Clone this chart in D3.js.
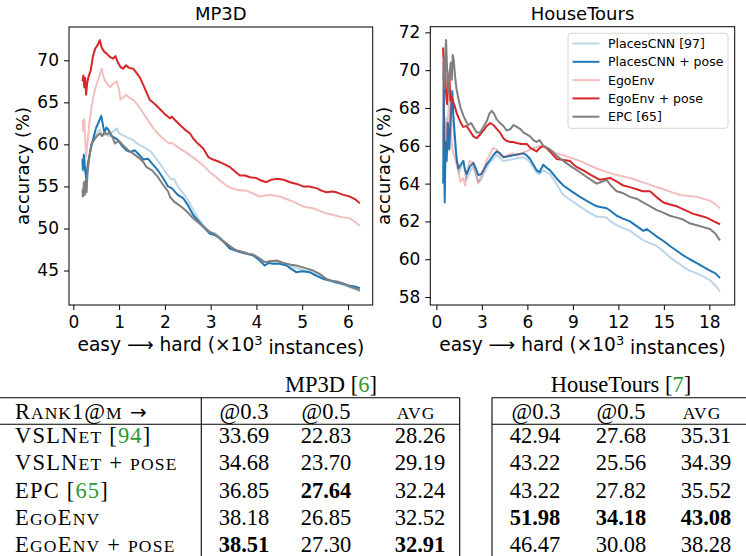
<!DOCTYPE html>
<html>
<head>
<meta charset="utf-8">
<script src="https://cdn.jsdelivr.net/npm/d3@7"></script>
<style>
    body { margin: 0; background: #fff; }
    svg { display: block; }
</style>
</head>
<body>
<div id="chart"></div>
<script>
"use strict";
(function () {
    // ---- MP3D curve: accuracy vs difficulty (x in 10^3 instances) ----
    const mp3dPlaces = [[0.20,58.0],[0.22,56.8],[0.24,58.5],[0.27,56.5],[0.30,57.2],[0.34,58.5],[0.40,59.8],[0.46,60.8],[0.52,61.3],[0.58,61.8],[0.64,61.0],[0.70,61.2],[0.78,61.0],[0.86,61.5],[0.95,61.9],[1.0,61.3],[1.08,61.1],[1.18,60.8],[1.31,60.5],[1.42,60.0],[1.6,59.5],[1.70,59.1],[1.8,58.4],[1.92,57.5],[2.03,56.6],[2.14,55.8],[2.2,55.9],[2.28,55.0],[2.4,54.2],[2.5,53.4],[2.62,52.2],[2.73,51.2],[2.84,50.4],[2.98,49.6],[3.1,49.4],[3.2,49.0],[3.32,48.3],[3.42,47.7],[3.53,47.4],[3.64,47.2],[3.78,47.1],[3.93,46.8],[4.05,46.4],[4.18,46.0],[4.3,46.1],[4.44,46.0],[4.6,45.8],[4.76,45.5],[4.87,45.3],[5.0,45.1],[5.16,44.9],[5.3,44.6],[5.46,44.2],[5.6,43.8],[5.75,43.5],[5.9,43.3],[6.04,43.0],[6.15,42.8],[6.26,42.6]]
    const mp3dPlacesPose = [[0.20,58.3],[0.21,57.0],[0.23,58.8],[0.25,57.5],[0.28,56.0],[0.30,56.8],[0.33,58.0],[0.39,59.7],[0.45,61.0],[0.50,62.0],[0.55,62.6],[0.61,63.4],[0.65,62.2],[0.68,61.4],[0.72,62.0],[0.76,61.8],[0.83,61.0],[0.9,60.8],[0.98,60.5],[1.07,59.8],[1.16,59.3],[1.24,59.1],[1.34,59.3],[1.45,58.7],[1.53,58.2],[1.63,58.3],[1.74,57.6],[1.85,56.9],[1.96,56.0],[2.07,55.0],[2.15,54.8],[2.28,54.0],[2.4,53.6],[2.5,52.8],[2.62,51.6],[2.73,50.9],[2.84,50.2],[2.98,49.4],[3.1,49.2],[3.2,48.8],[3.32,48.2],[3.42,47.6],[3.53,47.4],[3.64,47.2],[3.78,47.0],[3.93,46.8],[4.05,46.3],[4.18,45.6],[4.27,45.9],[4.36,45.8],[4.5,45.8],[4.66,45.6],[4.76,45.2],[4.87,44.8],[5.0,44.9],[5.16,44.8],[5.3,44.4],[5.46,44.0],[5.6,43.8],[5.75,43.6],[5.9,43.4],[6.04,43.2],[6.15,43.1],[6.26,42.9]]
    const mp3dEgoEnv = [[0.20,62.9],[0.22,61.6],[0.24,63.0],[0.26,60.5],[0.28,58.5],[0.31,60.2],[0.35,62.5],[0.40,64.5],[0.45,66.0],[0.50,67.0],[0.55,67.8],[0.60,68.7],[0.62,69.0],[0.66,68.0],[0.70,67.5],[0.73,67.3],[0.80,66.8],[0.87,67.2],[0.95,67.5],[1.0,66.5],[1.03,65.3],[1.09,65.6],[1.16,65.9],[1.24,65.5],[1.31,65.3],[1.42,64.6],[1.53,63.7],[1.64,62.8],[1.75,61.9],[1.9,61.0],[2.04,60.3],[2.11,60.1],[2.15,60.2],[2.25,59.8],[2.33,59.5],[2.45,59.1],[2.55,58.7],[2.7,58.1],[2.84,57.5],[2.98,56.7],[3.1,56.2],[3.2,55.7],[3.35,55.1],[3.45,54.8],[3.56,54.6],[3.78,54.5],[3.95,54.1],[4.07,53.8],[4.18,53.9],[4.29,54.0],[4.4,53.9],[4.51,53.8],[4.65,53.5],[4.8,53.2],[4.92,52.9],[5.02,52.6],[5.24,52.4],[5.38,52.1],[5.53,51.8],[5.68,51.6],[5.82,51.4],[6.04,51.2],[6.15,50.8],[6.26,50.3]]
    const mp3dEgoEnvPose = [[0.20,67.5],[0.22,68.2],[0.24,66.8],[0.26,67.9],[0.28,65.9],[0.30,67.2],[0.33,68.0],[0.38,68.8],[0.43,70.5],[0.48,71.4],[0.53,71.8],[0.58,72.4],[0.62,71.5],[0.68,71.0],[0.73,70.8],[0.80,70.4],[0.87,70.2],[0.92,70.5],[0.97,69.8],[1.03,69.2],[1.09,69.0],[1.15,69.4],[1.22,69.1],[1.31,69.0],[1.38,68.5],[1.46,67.9],[1.55,66.8],[1.67,65.3],[1.78,64.8],[1.89,64.2],[2.0,63.6],[2.11,63.1],[2.15,63.3],[2.22,62.9],[2.33,62.3],[2.45,61.7],[2.55,61.3],[2.62,60.7],[2.72,60.1],[2.84,59.5],[2.95,58.5],[3.05,58.2],[3.2,57.9],[3.32,57.6],[3.42,57.3],[3.55,56.7],[3.64,56.3],[3.75,56.3],[3.86,56.1],[4.0,56.0],[4.1,55.7],[4.22,55.5],[4.33,55.8],[4.44,55.9],[4.6,55.8],[4.73,55.5],[4.88,55.3],[5.02,55.0],[5.15,55.0],[5.31,54.8],[5.42,54.5],[5.53,54.3],[5.65,54.4],[5.75,54.3],[5.9,54.0],[6.04,53.8],[6.15,53.5],[6.26,53.0]]
    const mp3dEPC = [[0.20,54.6],[0.21,53.8],[0.23,55.5],[0.25,54.0],[0.27,55.8],[0.29,54.3],[0.31,56.5],[0.34,58.0],[0.39,60.0],[0.45,60.5],[0.52,61.0],[0.58,61.3],[0.63,61.0],[0.68,61.4],[0.74,61.2],[0.8,61.5],[0.86,60.8],[0.91,60.1],[0.98,60.4],[1.02,60.3],[1.1,59.8],[1.2,59.3],[1.31,58.9],[1.43,58.4],[1.53,57.9],[1.6,57.3],[1.72,56.9],[1.85,56.1],[1.96,55.2],[2.07,54.4],[2.11,53.8],[2.2,53.2],[2.28,52.9],[2.4,52.4],[2.5,51.9],[2.62,51.2],[2.73,50.7],[2.84,50.2],[2.98,49.6],[3.1,49.3],[3.2,48.8],[3.35,48.2],[3.45,47.8],[3.56,47.4],[3.7,47.2],[3.82,47.0],[3.93,46.9],[4.05,46.5],[4.18,46.0],[4.3,46.1],[4.44,46.2],[4.6,45.9],[4.75,45.7],[4.87,45.6],[5.0,45.4],[5.12,45.2],[5.24,45.0],[5.38,44.6],[5.53,44.0],[5.65,43.8],[5.76,43.7],[5.89,43.5],[6.04,43.1],[6.15,42.9],[6.26,42.6]]

    // ---- HouseTours curve ----
    const htPlaces = [[0.45,66.0],[0.49,69.7],[0.53,65.0],[0.58,64.2],[0.65,67.5],[0.72,66.4],[0.8,66.0],[0.9,67.0],[0.97,68.5],[1.05,67.6],[1.12,67.0],[1.22,66.0],[1.32,65.5],[1.5,64.6],[1.65,64.9],[1.78,65.1],[1.9,64.5],[2.0,64.2],[2.2,64.6],[2.4,64.9],[2.6,64.5],[2.75,64.1],[2.95,64.2],[3.1,64.5],[3.3,64.8],[3.5,65.1],[3.75,65.3],[4.0,65.5],[4.2,65.35],[4.4,65.2],[4.75,65.25],[5.1,65.3],[5.4,65.35],[5.7,65.4],[5.95,65.3],[6.2,65.1],[6.4,64.85],[6.6,64.6],[6.8,64.5],[7.05,64.7],[7.25,64.6],[7.5,64.5],[7.9,64.0],[8.37,63.4],[8.9,63.1],[9.47,62.8],[10.0,62.5],[10.57,62.25],[10.9,62.25],[11.23,62.2],[11.5,62.0],[11.89,61.8],[12.3,61.65],[12.77,61.5],[13.2,61.25],[13.65,61.0],[14.1,60.85],[14.53,60.7],[15.0,60.4],[15.4,60.1],[15.85,59.85],[16.28,59.6],[16.7,59.4],[17.17,59.25],[17.6,59.1],[18.04,58.9],[18.4,58.6],[18.7,58.3]]
    const htPlacesPose = [[0.45,64.0],[0.49,69.6],[0.52,65.0],[0.55,63.0],[0.6,66.2],[0.68,65.2],[0.76,67.2],[0.85,65.8],[0.95,67.5],[1.05,68.9],[1.12,67.6],[1.22,66.5],[1.34,65.25],[1.45,64.8],[1.6,65.0],[1.78,65.2],[1.9,64.7],[2.0,64.5],[2.2,64.9],[2.44,65.1],[2.6,64.8],[2.77,64.45],[2.95,64.5],[3.1,64.7],[3.3,65.0],[3.54,65.25],[3.75,65.5],[3.98,65.7],[4.2,65.6],[4.42,65.4],[4.75,65.45],[5.08,65.5],[5.4,65.55],[5.74,65.6],[5.95,65.5],[6.18,65.3],[6.4,65.0],[6.62,64.7],[6.8,64.6],[7.05,65.0],[7.25,64.85],[7.5,64.7],[7.9,64.3],[8.37,63.9],[8.9,63.6],[9.47,63.3],[10.0,63.05],[10.57,62.8],[10.9,62.75],[11.23,62.7],[11.5,62.55],[11.89,62.3],[12.3,62.15],[12.77,62.0],[13.2,61.75],[13.65,61.5],[13.87,61.6],[14.2,61.4],[14.53,61.2],[15.0,60.95],[15.4,60.7],[15.85,60.45],[16.28,60.2],[16.7,60.0],[17.17,59.8],[17.6,59.6],[18.04,59.4],[18.4,59.25],[18.7,59.0]]
    const htEgoEnv = [[0.44,70.5],[0.48,68.2],[0.53,66.5],[0.58,65.8],[0.65,67.2],[0.72,66.6],[0.8,68.0],[0.87,68.6],[0.95,67.0],[1.02,66.0],[1.12,65.6],[1.25,65.3],[1.4,64.8],[1.6,64.1],[1.78,64.3],[1.9,63.9],[2.0,64.6],[2.2,65.2],[2.4,65.1],[2.6,64.6],[2.75,64.0],[2.9,64.3],[3.1,64.7],[3.3,65.2],[3.5,65.5],[3.75,65.9],[3.98,65.8],[4.2,65.5],[4.42,65.4],[4.7,65.5],[5.0,65.6],[5.3,65.5],[5.6,65.6],[5.9,65.7],[6.2,65.8],[6.5,65.9],[6.84,66.0],[7.1,65.9],[7.5,65.8],[7.9,65.6],[8.37,65.5],[8.9,65.35],[9.47,65.2],[10.0,65.0],[10.57,64.8],[11.1,64.65],[11.67,64.5],[12.2,64.4],[12.77,64.3],[13.3,64.15],[13.87,64.0],[14.4,63.85],[14.97,63.7],[15.5,63.55],[16.07,63.4],[16.6,63.35],[17.17,63.3],[17.6,63.2],[18.04,63.1],[18.4,62.9],[18.7,62.7]]
    const htEgoEnvPose = [[0.44,71.2],[0.48,70.5],[0.52,69.5],[0.58,70.0],[0.64,68.8],[0.7,68.2],[0.78,69.2],[0.86,69.8],[0.92,68.4],[1.0,68.6],[1.12,68.3],[1.21,68.1],[1.35,67.7],[1.56,67.3],[1.76,67.0],[2.0,67.05],[2.2,66.8],[2.44,66.5],[2.66,66.4],[2.88,66.6],[3.1,66.8],[3.32,67.05],[3.55,67.2],[3.76,67.1],[3.98,66.9],[4.2,66.7],[4.42,66.4],[4.64,66.25],[4.9,66.2],[5.06,66.2],[5.3,66.15],[5.6,66.1],[5.96,66.1],[6.18,65.9],[6.4,65.8],[6.6,65.7],[6.84,65.9],[7.05,66.0],[7.25,65.9],[7.6,65.6],[7.94,65.3],[8.4,65.25],[8.81,65.2],[9.2,64.9],[9.69,64.7],[10.2,64.45],[10.79,64.2],[11.1,64.25],[11.45,64.3],[11.9,64.1],[12.33,63.9],[12.8,63.8],[13.21,63.7],[13.6,63.6],[14.09,63.6],[14.5,63.3],[14.97,63.0],[15.4,62.9],[15.85,62.8],[16.4,62.6],[16.94,62.4],[17.4,62.3],[17.82,62.2],[18.3,62.0],[18.7,61.85]]
    const htEPC = [[0.45,69.5],[0.5,70.6],[0.55,69.0],[0.6,71.0],[0.64,71.6],[0.7,70.2],[0.79,68.8],[0.86,69.8],[0.95,70.4],[1.02,69.5],[1.08,70.8],[1.15,70.5],[1.23,69.7],[1.33,69.0],[1.45,68.5],[1.6,68.0],[1.78,67.6],[1.95,67.3],[2.11,67.1],[2.3,67.2],[2.44,67.0],[2.66,66.7],[2.88,66.7],[3.1,67.0],[3.32,67.3],[3.5,67.7],[3.65,67.85],[3.8,67.7],[3.98,67.4],[4.2,67.2],[4.42,67.05],[4.64,66.8],[4.9,66.9],[5.08,67.1],[5.3,67.0],[5.52,66.9],[5.75,66.7],[5.96,66.6],[6.18,66.5],[6.4,66.3],[6.62,66.2],[6.8,66.3],[7.05,66.0],[7.3,65.9],[7.5,65.8],[7.9,65.5],[8.37,65.2],[8.9,64.9],[9.47,64.6],[10.0,64.3],[10.57,64.0],[10.9,64.1],[11.23,64.2],[11.5,63.9],[11.89,63.6],[12.3,63.5],[12.77,63.3],[13.2,63.2],[13.65,63.0],[14.1,62.8],[14.53,62.6],[15.0,62.45],[15.4,62.3],[15.85,62.2],[16.28,62.1],[16.7,61.9],[17.17,61.8],[17.6,61.7],[18.04,61.6],[18.4,61.35],[18.7,61.0]]

    const seriesNames = ["PlacesCNN [97]", "PlacesCNN + pose", "EgoEnv", "EgoEnv + pose", "EPC [65]"]
    const seriesColors = ["#1f77b4", "#1f77b4", "#d62728", "#d62728", "#7f7f7f"]
    const seriesAlpha = [0.3, 1, 0.3, 1, 1]

    const mp3dXTicks = [0, 1, 2, 3, 4, 5, 6]
    const mp3dYTicks = [45, 50, 55, 60, 65, 70]
    const htXTicks = [0, 3, 6, 9, 12, 15, 18]
    const htYTicks = [58, 60, 62, 64, 66, 68, 70, 72]

    // ---- table ----
    const methodLabels = [
        [["VSLN", "n"], ["ET", "s"], [" [", "n"], ["94", "g"], ["]", "n"]],
        [["VSLN", "n"], ["ET", "s"], [" + ", "n"], ["POSE", "s"]],
        [["EPC [", "n"], ["65", "g"], ["]", "n"]],
        [["E", "n"], ["GO", "s"], ["E", "n"], ["NV", "s"]],
        [["E", "n"], ["GO", "s"], ["E", "n"], ["NV", "s"], [" + ", "n"], ["POSE", "s"]]
    ]
    const headerLabel = [["R", "n"], ["ANK", "s"], ["1@", "n"], ["M", "s"], [" \u2192", "a"]]
    const colHeaders = [[["@0.3", "n"]], [["@0.5", "n"]], [["AVG", "s"]]]
    const mp3dAt03 = [33.69, 34.68, 36.85, 38.18, 38.51]
    const mp3dAt05 = [22.83, 23.70, 27.64, 26.85, 27.30]
    const mp3dAvg = [28.26, 29.19, 32.24, 32.52, 32.91]
    const htAt03 = [42.94, 43.22, 43.22, 51.98, 46.47]
    const htAt05 = [27.68, 25.56, 27.82, 34.18, 30.08]
    const htAvg = [35.31, 34.39, 35.52, 43.08, 38.28]

    const W = 746, H = 556
    const svg = d3.select("#chart").append("svg")
        .attr("width", W)
        .attr("height", H)

    const sansFont = "'DejaVu Sans', sans-serif"
    const serifFont = "'Liberation Serif', 'Times New Roman', serif"
    const green = "#2f9a2f"

    drawPanel({
        title: "MP3D",
        left: 69, right: 372.7, top: 27, bottom: 305,
        xDomain: [-0.094, 6.54], yDomain: [40.9, 73.96],
        xTicks: mp3dXTicks, yTicks: mp3dYTicks,
        ylabelX: 28.5,
        series: [mp3dPlaces, mp3dPlacesPose, mp3dEgoEnv, mp3dEgoEnvPose, mp3dEPC],
        legend: false
    })
    drawPanel({
        title: "HouseTours",
        left: 430.3, right: 734.7, top: 26.7, bottom: 305,
        xDomain: [-0.40, 19.67], yDomain: [57.58, 72.3],
        xTicks: htXTicks, yTicks: htYTicks,
        ylabelX: 389.7,
        series: [htPlaces, htPlacesPose, htEgoEnv, htEgoEnvPose, htEPC],
        legend: true
    })

    function drawPanel(p) {
        const x = d3.scaleLinear().domain(p.xDomain).range([p.left, p.right])
        const y = d3.scaleLinear().domain(p.yDomain).range([p.bottom, p.top])
        const line = d3.line().x(d => x(d[0])).y(d => y(d[1]))

        const g = svg.append("g")
        p.series.forEach((values, i) => {
            g.append("path")
                .datum(values)
                .attr("d", line)
                .attr("fill", "none")
                .attr("stroke", seriesColors[i])
                .attr("stroke-opacity", seriesAlpha[i])
                .attr("stroke-width", 2)
                .attr("stroke-linejoin", "round")
        })

        // axes (matplotlib look: outward ticks, full frame)
        const xAxis = svg.append("g")
            .attr("transform", "translate(0," + p.bottom + ")")
            .call(d3.axisBottom(x).tickValues(p.xTicks).tickFormat(d3.format("d"))
                .tickSize(5).tickPadding(6).tickSizeOuter(0))
        const yAxis = svg.append("g")
            .attr("transform", "translate(" + p.left + ",0)")
            .call(d3.axisLeft(y).tickValues(p.yTicks).tickFormat(d3.format("d"))
                .tickSize(5).tickPadding(5).tickSizeOuter(0))
        ;[xAxis, yAxis].forEach(a => {
            a.select(".domain").remove()
            a.attr("font-family", sansFont).attr("font-size", 17)
            a.selectAll(".tick line").attr("stroke", "#000").attr("stroke-width", 1)
            a.selectAll(".tick text").attr("fill", "#000")
        })

        svg.append("rect")
            .attr("x", p.left).attr("y", p.top)
            .attr("width", p.right - p.left).attr("height", p.bottom - p.top)
            .attr("fill", "none").attr("stroke", "#000").attr("stroke-width", 1)

        const cx = (p.left + p.right) / 2
        svg.append("text")
            .attr("x", cx).attr("y", 20)
            .attr("text-anchor", "middle")
            .attr("font-family", sansFont).attr("font-size", 18)
            .text(p.title)

        const xl = svg.append("text")
            .attr("x", cx).attr("y", 351)
            .attr("text-anchor", "middle")
            .attr("font-family", sansFont).attr("font-size", 18.6)
        xl.append("tspan").text("easy \u27F6 hard (\u00D710")
        xl.append("tspan").attr("dy", "-0.45em").attr("font-size", 13).text("3")
        xl.append("tspan").attr("dy", "0.45em").text(" instances)")

        svg.append("text")
            .attr("transform", "translate(" + p.ylabelX + "," + ((p.top + p.bottom) / 2) + ") rotate(-90)")
            .attr("text-anchor", "middle")
            .attr("font-family", sansFont).attr("font-size", 18)
            .text("accuracy (%)")

        if (p.legend) {
            const lg = svg.append("g")
            lg.append("rect")
                .attr("x", 568).attr("y", 33.3)
                .attr("width", 160).attr("height", 95)
                .attr("rx", 3)
                .attr("fill", "#fff").attr("fill-opacity", 0.8)
                .attr("stroke", "#d6d6d6").attr("stroke-width", 1)
            seriesNames.forEach((name, i) => {
                const ly = 43.5 + i * 18.3
                lg.append("line")
                    .attr("x1", 572.5).attr("x2", 599.5)
                    .attr("y1", ly).attr("y2", ly)
                    .attr("stroke", seriesColors[i])
                    .attr("stroke-opacity", seriesAlpha[i])
                    .attr("stroke-width", 2)
                lg.append("text")
                    .attr("x", 608).attr("y", ly)
                    .attr("dy", "0.36em")
                    .attr("font-family", sansFont).attr("font-size", 12.5)
                    .text(name)
            })
        }
    }

    // ---- table ----
    const tSize = 22.5
    const scSize = tSize * 0.78
    const headerY = 419.3
    const rowY = d3.range(methodLabels.length).map(i => 443.3 + i * 27.1)

    function richText(x, yPos, segs, anchor, bold, spacing) {
        const t = svg.append("text")
            .attr("x", x).attr("y", yPos)
            .attr("text-anchor", anchor)
            .attr("font-family", serifFont)
            .attr("font-size", tSize)
            .attr("font-weight", bold ? "bold" : "normal")
            .attr("letter-spacing", spacing || 0)
            .attr("fill", "#000")
        segs.forEach(s => {
            const ts = t.append("tspan").text(s[0])
            if (s[1] === "s") ts.attr("font-size", scSize)
            if (s[1] === "g") ts.attr("fill", green)
            if (s[1] === "a") ts.attr("font-family", sansFont).attr("font-size", 20)
        })
        return t
    }

    // group titles
    richText(331, 391.5, [["MP3D [", "n"], ["6", "g"], ["]", "n"]], "middle")
    richText(621, 391.5, [["HouseTours [", "n"], ["7", "g"], ["]", "n"]], "middle")

    // rules
    const rules = [
        [0, 459.7, 397.7, 397.7], [492, W, 397.7, 397.7],
        [0, 459.7, 424.3, 424.3], [492, W, 424.3, 424.3],
        [201.3, 201.3, 397.7, H], [459.7, 459.7, 397.7, H], [492, 492, 397.7, H]
    ]
    rules.forEach(r => {
        svg.append("line")
            .attr("x1", r[0]).attr("x2", r[1]).attr("y1", r[2]).attr("y2", r[3])
            .attr("stroke", "#000").attr("stroke-width", 1.1)
    })

    richText(15, headerY, headerLabel, "start", false, 1)
    const colX = [244, 326, 420, 535, 621, 706]
    const colHeadX = [244, 326, 416, 536, 621, 702]
    const columns = [mp3dAt03, mp3dAt05, mp3dAvg, htAt03, htAt05, htAvg]
    columns.forEach((col, c) => {
        richText(colHeadX[c], headerY, colHeaders[c % 3], "middle", false, c % 3 === 2 ? 1 : 0)
        const best = d3.max(col)
        col.forEach((v, r) => {
            richText(colX[c], rowY[r], [[v.toFixed(2), "n"]], "middle", v === best)
        })
    })
    methodLabels.forEach((segs, r) => richText(15, rowY[r], segs, "start", false, 1.2))
})()
</script>
</body>
</html>
